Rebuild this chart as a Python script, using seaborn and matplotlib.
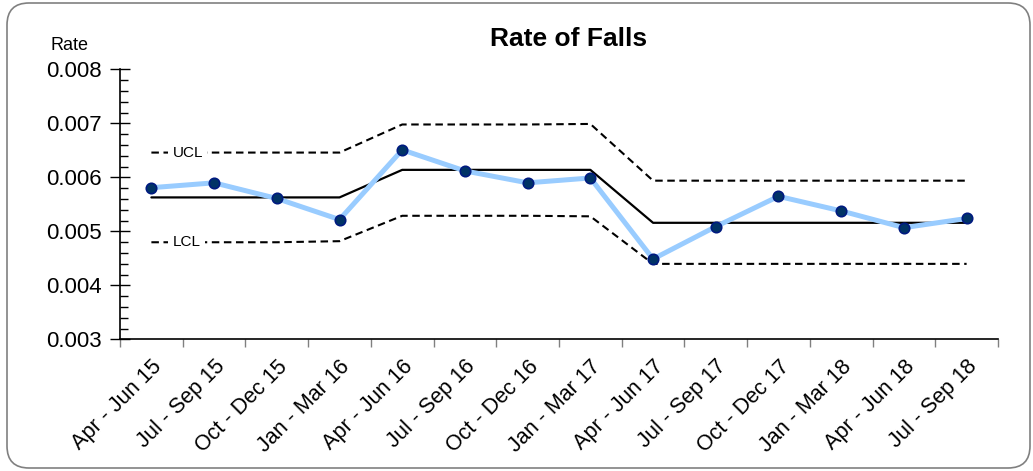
import numpy as np
import pandas as pd
import matplotlib.pyplot as plt
import seaborn as sns
from matplotlib.patches import FancyBboxPatch
from matplotlib.ticker import MultipleLocator, FixedLocator

periods = ["Apr - Jun 15", "Jul - Sep 15", "Oct - Dec 15", "Jan - Mar 16",
           "Apr - Jun 16", "Jul - Sep 16", "Oct - Dec 16", "Jan - Mar 17",
           "Apr - Jun 17", "Jul - Sep 17", "Oct - Dec 17", "Jan - Mar 18",
           "Apr - Jun 18", "Jul - Sep 18"]
rate = [0.00581, 0.00590, 0.00561, 0.00522, 0.00651, 0.00612, 0.00590,
        0.00599, 0.00449, 0.00509, 0.00565, 0.00538, 0.00507, 0.00524]
mean = [0.00563, 0.00563, 0.00563, 0.00563, 0.00614, 0.00614, 0.00614,
        0.00614, 0.00516, 0.00516, 0.00516, 0.00516, 0.00516, 0.00516]
ucl = [0.00646, 0.00646, 0.00646, 0.00646, 0.00698, 0.00698, 0.00698,
       0.00699, 0.00594, 0.00594, 0.00594, 0.00594, 0.00594, 0.00594]
lcl = [0.00480, 0.00480, 0.00480, 0.00482, 0.00529, 0.00529, 0.00529,
       0.00528, 0.00440, 0.00440, 0.00440, 0.00440, 0.00440, 0.00440]

df = pd.DataFrame({"period": periods, "rate": rate, "mean": mean,
                   "ucl": ucl, "lcl": lcl})

sns.set_style("white")
plt.rcParams["font.family"] = ["Liberation Sans", "DejaVu Sans"]
plt.rcParams["text.color"] = "black"
plt.rcParams["xtick.color"] = "black"
plt.rcParams["ytick.color"] = "black"

fig = plt.figure(figsize=(10.33, 4.71), dpi=100)
ax = fig.add_axes([0.1162, 0.2792, 0.8499, 0.5735])

for col in ["ucl", "lcl"]:
    sns.lineplot(data=df, x="period", y=col, sort=False, ax=ax, color="black",
                 linewidth=1.5, dashes=False, linestyle=(0, (3.6, 2.2)))
sns.lineplot(data=df, x="period", y="mean", sort=False, ax=ax, color="black",
             linewidth=1.6)
sns.lineplot(data=df, x="period", y="rate", sort=False, ax=ax, color="#99ccff",
             linewidth=3.6, marker="o", markersize=7.5,
             markerfacecolor="#003366", markeredgecolor="#001a80",
             markeredgewidth=1.2)

# labels sitting on the control limit lines
lbl = dict(fontsize=11, ha="center", va="center",
           bbox=dict(facecolor="white", edgecolor="none", pad=3))
ax.text(0.58, ucl[0], "UCL", **lbl)
ax.text(0.56, lcl[0], "LCL", **lbl)

ax.set_xlim(-0.5, len(periods) - 0.5)
ax.set_ylim(0.003, 0.008)
ax.set_xlabel("")
ax.set_ylabel("")

ax.yaxis.set_major_locator(MultipleLocator(0.001))
ax.yaxis.set_minor_locator(MultipleLocator(0.0002))
ax.yaxis.set_major_formatter(plt.FuncFormatter(lambda v, p: f"{v:.3f}"))
ax.tick_params(axis="y", which="major", direction="inout", length=14,
               width=1, labelsize=16, left=True, pad=6)
ax.tick_params(axis="y", which="minor", direction="in", length=6,
               width=1, left=True)

ax.xaxis.set_major_locator(FixedLocator(np.arange(len(periods))))
ax.set_xticklabels(periods, rotation=45, ha="right", rotation_mode="anchor")
ax.xaxis.set_minor_locator(FixedLocator(np.arange(len(periods) + 1) - 0.5))
ax.tick_params(axis="x", which="major", length=0, labelsize=15.5, pad=12)
ax.tick_params(axis="x", which="minor", direction="out", length=6,
               width=1, color="#808080", bottom=True)

for side in ["top", "right"]:
    ax.spines[side].set_visible(False)
for side in ["left", "bottom"]:
    ax.spines[side].set_color("black")
    ax.spines[side].set_linewidth(1.2)

fig.text(569 / 1033, 1 - 39 / 471, "Rate of Falls", fontsize=19,
         fontweight="bold", ha="center", va="center")
fig.text(69 / 1033, 1 - 45 / 471, "Rate", fontsize=13,
         ha="center", va="center")

border = FancyBboxPatch((7, 3), 1023, 465, boxstyle="round,pad=0,rounding_size=22",
                        transform=None, facecolor="none", edgecolor="#808080",
                        linewidth=1.2)
fig.patches.append(border)

fig.savefig("out.png", dpi=100)
